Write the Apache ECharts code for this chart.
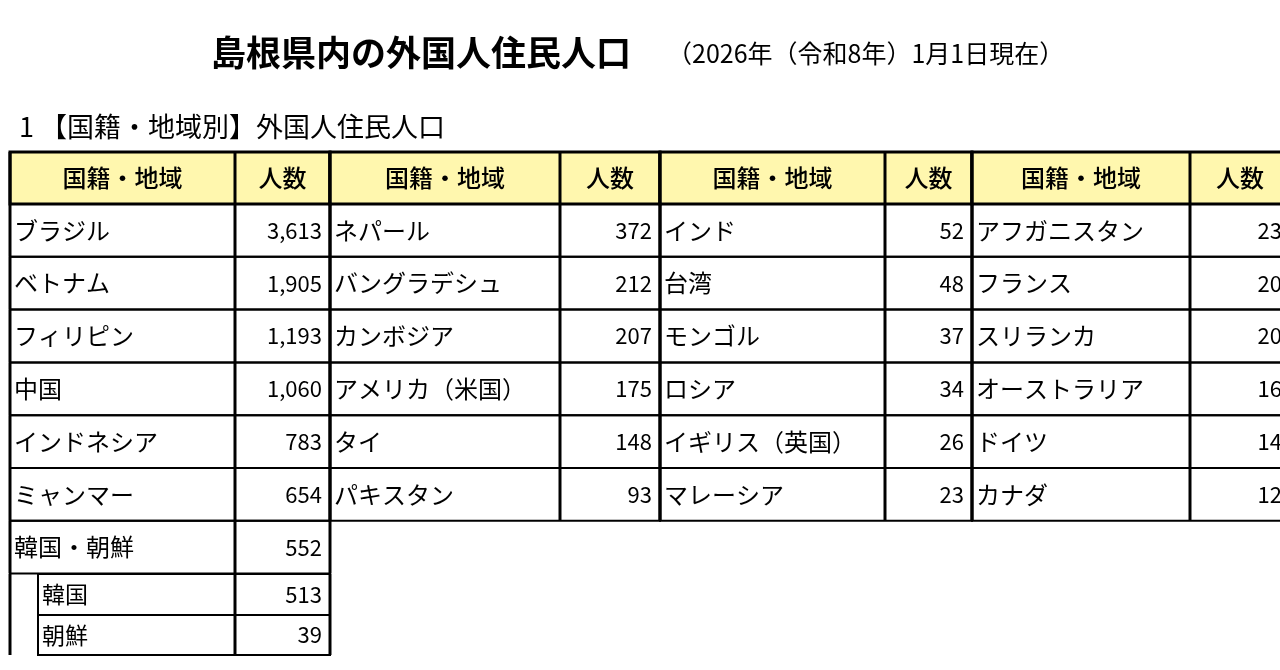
<!DOCTYPE html><html><head><meta charset="utf-8">
<script src="https://cdn.jsdelivr.net/npm/echarts@6/dist/echarts.min.js"></script>
<style>html,body{margin:0;background:#fff}#c{width:1280px;height:670px}</style></head><body><div id="c"></div>
<script>
const headerName = '国籍・地域', headerNum = '人数';
const names1 = ['ブラジル','ベトナム','フィリピン','中国','インドネシア','ミャンマー','韓国・朝鮮'];
const values1 = [3613,1905,1193,1060,783,654,552];
const subNames = ['韓国','朝鮮'];
const subValues = [513,39];
const names2 = ['ネパール','バングラデシュ','カンボジア','アメリカ（米国）','タイ','パキスタン'];
const values2 = [372,212,207,175,148,93];
const names3 = ['インド','台湾','モンゴル','ロシア','イギリス（英国）','マレーシア'];
const values3 = [52,48,37,34,26,23];
const names4 = ['アフガニスタン','フランス','スリランカ','オーストラリア','ドイツ','カナダ'];
const values4 = [23,20,20,16,14,12];

const groupsLayout = [[10,235,330],[330,560,660],[660,885,972],[972,1190,1290]];
const FONT = '"Noto Sans CJK JP", sans-serif';
const data = [];
[[names1,values1],[names2,values2],[names3,values3],[names4,values4]].forEach((gv,g)=>{
  data.push([g,-1,headerName,headerNum]);
  gv[0].forEach((n,i)=>data.push([g,i,n,gv[1][i]]));
});
subNames.forEach((n,i)=>data.push([0,7+i,n,subValues[i]]));

const fmt = v => typeof v==='number' ? v.toLocaleString('en-US') : v;
function rowSpan(r){
  if(r===-1) return [152,204];
  if(r<=6) return [204+r*52.8,204+(r+1)*52.8];
  if(r===7) return [574,615];
  return [615,655];
}
function renderItem(params, api){
  const g=api.value(0), r=api.value(1);
  const name=data[params.dataIndex][2], val=data[params.dataIndex][3];
  const [x0,xs,x1]=groupsLayout[g];
  const [y0,y1]=rowSpan(r);
  const p0=api.coord([x0,y0]), ps=api.coord([xs,y0]), p1=api.coord([x1,y1]);
  const top=p0[1], bot=p1[1], h=bot-top;
  const sub=r>=7;
  const nx = sub ? p0[0]+28 : p0[0];
  const fs = sub?23:24;
  const ch=[];
  if(r===-1) ch.push({type:'rect',shape:{x:p0[0],y:top,width:p1[0]-p0[0],height:h},style:{fill:'#FFF7AE'}});
  ch.push({type:'rect',shape:{x:nx,y:top,width:p1[0]-nx,height:h},style:{fill:'none',stroke:'#000',lineWidth:r===-1?3:2}});
  ch.push({type:'line',shape:{x1:ps[0],y1:top,x2:ps[0],y2:bot},style:{stroke:'#000',lineWidth:3}});
  ch.push({type:'line',shape:{x1:p0[0],y1:top,x2:p0[0],y2:bot},style:{stroke:'#000',lineWidth:3}});
  ch.push({type:'line',shape:{x1:p1[0],y1:top,x2:p1[0],y2:bot},style:{stroke:'#000',lineWidth:3}});
  if(r===-1){
    ch.push({type:'text',style:{x:(p0[0]+ps[0])/2,y:top+h/2,text:name,align:'center',verticalAlign:'middle',font:'500 24px '+FONT,fill:'#000'}});
    ch.push({type:'text',style:{x:(ps[0]+p1[0])/2,y:top+h/2,text:val,align:'center',verticalAlign:'middle',font:'500 24px '+FONT,fill:'#000'}});
  } else {
    ch.push({type:'text',style:{x:nx+4,y:top+h/2,text:name,align:'left',verticalAlign:'middle',font:fs+'px '+FONT,fill:'#000'}});
    ch.push({type:'text',style:{x:p1[0]-8,y:top+h/2,text:fmt(val),align:'right',verticalAlign:'middle',font:'22px '+FONT,fill:'#000'}});
  }
  return {type:'group',children:ch};
}
const chart=echarts.init(document.getElementById('c'));
chart.setOption({
  animation:false,
  title:[
    {text:'島根県内の外国人住民人口',left:206,top:30,textStyle:{fontFamily:FONT,fontSize:35,fontWeight:'bold',color:'#000'}},
    {text:'（2026年（令和8年）1月1日現在）',left:662,top:36,textStyle:{fontFamily:FONT,fontSize:25,fontWeight:'normal',color:'#000'}},
    {text:'1 【国籍・地域別】外国人住民人口',left:14,top:108,textStyle:{fontFamily:FONT,fontSize:27,fontWeight:'normal',color:'#000'}}
  ],
  grid:{left:0,right:0,top:0,bottom:0},
  xAxis:{type:'value',min:0,max:1280,show:false},
  yAxis:{type:'value',min:0,max:670,inverse:true,show:false},
  series:[{type:'custom',renderItem,data:data.map(d=>[d[0],d[1]]),clip:false}]
});
</script></body></html>
